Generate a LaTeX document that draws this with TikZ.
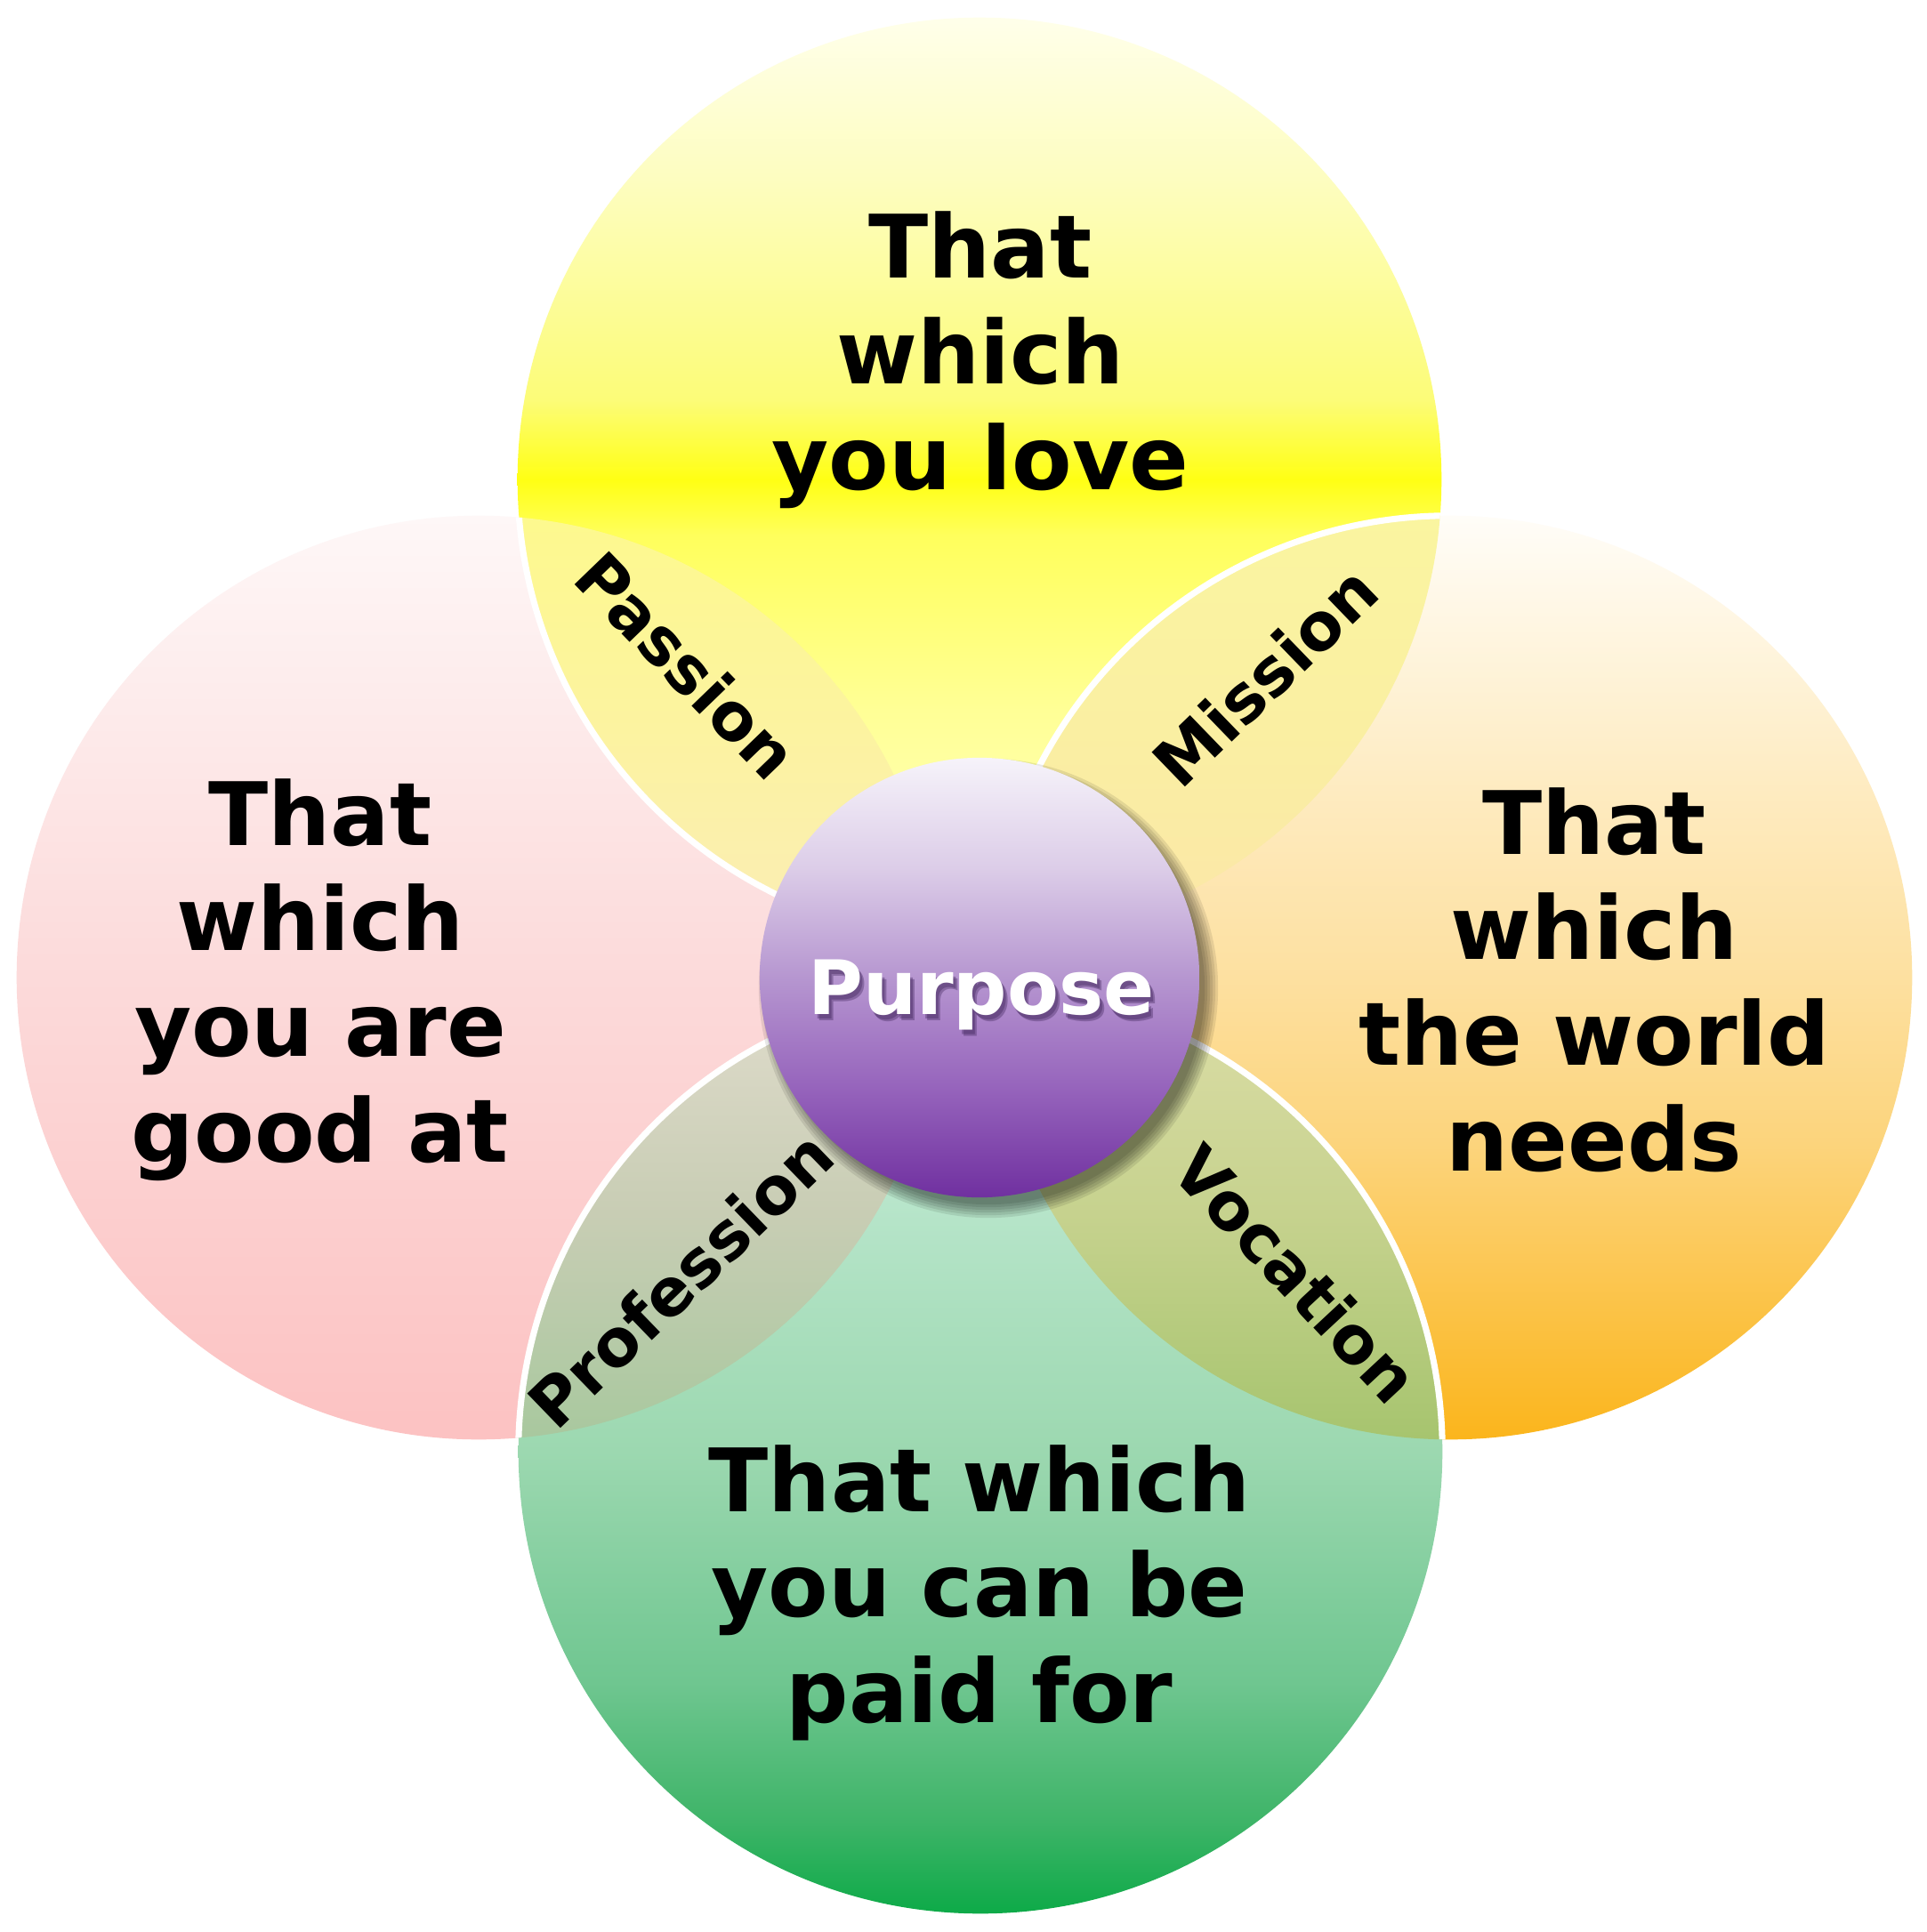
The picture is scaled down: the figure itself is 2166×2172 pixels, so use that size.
\documentclass[tikz,border=0pt]{standalone}
\usepackage{fontspec}
\setmainfont{DejaVu Sans}

% top circle colours
\definecolor{tyA}{HTML}{FFFFC4}
\definecolor{tyB}{HTML}{FFFF96}
\definecolor{tyC}{HTML}{FFFF5C}
\definecolor{tyD}{HTML}{FFFF14}
\definecolor{tyE}{HTML}{FCFC78}
\definecolor{tyF}{HTML}{FDFDC0}
\definecolor{tyG}{HTML}{FFFFEA}
% left
\definecolor{lpA}{HTML}{FCC2C2}
\definecolor{lpB}{HTML}{FCDADA}
\definecolor{lpC}{HTML}{FEF7F7}
% right
\definecolor{roA}{HTML}{FBB51C}
\definecolor{roB}{HTML}{FCD47C}
\definecolor{roC}{HTML}{FDE0A0}
\definecolor{roD}{HTML}{FEEBC0}
\definecolor{roE}{HTML}{FFFDF8}
% bottom
\definecolor{bgA}{HTML}{0DAA48}
\definecolor{bgB}{HTML}{3EB468}
\definecolor{bgC}{HTML}{6FC690}
\definecolor{bgD}{HTML}{9CD8B0}
\definecolor{bgE}{HTML}{B5E4C8}
\definecolor{bgF}{HTML}{D6F3E4}
% purple
\definecolor{ppA}{HTML}{7030A0}
\definecolor{ppB}{HTML}{9664BC}
\definecolor{ppC}{HTML}{B696D0}
\definecolor{ppD}{HTML}{DCCDE8}
\definecolor{ppE}{HTML}{F6F3FA}
\definecolor{pshadow}{HTML}{3A1F55}

\pgfdeclareverticalshading{shTop}{100bp}{color(0bp)=(tyA); color(25bp)=(tyA); color(37.5bp)=(tyB); color(47bp)=(tyC); color(50bp)=(tyD); color(54.3bp)=(tyE); color(66.3bp)=(tyF); color(75bp)=(tyG); color(100bp)=(tyG)}
\pgfdeclareverticalshading{shLeft}{100bp}{color(0bp)=(lpA); color(25bp)=(lpA); color(50bp)=(lpB); color(75bp)=(lpC); color(100bp)=(lpC)}
\pgfdeclareverticalshading{shRight}{100bp}{color(0bp)=(roA); color(25bp)=(roA); color(41bp)=(roB); color(50bp)=(roC); color(60bp)=(roD); color(75bp)=(roE); color(100bp)=(roE)}
\pgfdeclareverticalshading{shBottom}{100bp}{color(0bp)=(bgA); color(25bp)=(bgA); color(30bp)=(bgB); color(37.5bp)=(bgC); color(50bp)=(bgD); color(62.5bp)=(bgE); color(75bp)=(bgF); color(100bp)=(bgF)}
\pgfdeclareverticalshading{shPurple}{100bp}{color(0bp)=(ppA); color(25bp)=(ppA); color(37.5bp)=(ppB); color(50bp)=(ppC); color(62.5bp)=(ppD); color(75bp)=(ppE); color(100bp)=(ppE)}

\tikzset{
  bigtext/.style={font=\fontsize{28}{33.7}\selectfont\bfseries, align=center, anchor=base, inner sep=0pt, text=black},
  lenslabel/.style={font=\fontsize{21}{25}\selectfont\bfseries, inner sep=0pt, text=black},
  wborder/.style={draw=white, line width=2pt},
  purposetext/.style={font=\fontsize{24}{28}\selectfont\bfseries, anchor=base, inner sep=0pt}
}

\begin{document}
\begin{tikzpicture}[x=0.01cm,y=-0.01cm]
\useasboundingbox (0,0) rectangle (2166,2172);
\fill[white] (0,0) rectangle (2166,2172);

\coordinate (cT) at (1101,539);
\coordinate (cL) at (538,1099);
\coordinate (cR) at (1630,1099);
\coordinate (cB) at (1102,1632);
\coordinate (cP) at (1101,1099);
\coordinate (cS) at (1111,1111);
\def\R{5.19cm}

% the four circles
\shade[shading=shLeft] (cL) circle[radius=\R];
\shade[shading=shTop] (cT) circle[radius=\R];
\shade[shading=shRight] (cR) circle[radius=\R];
\shade[shading=shBottom] (cB) circle[radius=\R];

% overlaps
\begin{scope}
  \clip (cL) circle[radius=\R];
  \clip (cT) circle[radius=\R];
  \shade[top color={rgb,255:red,253;green,249;blue,142}, bottom color={rgb,255:red,250;green,237;blue,182}, middle color={rgb,255:red,252;green,243;blue,160}] (580,578) rectangle (1060,1060);
\end{scope}
\begin{scope}
  \clip (cT) circle[radius=\R];
  \clip (cR) circle[radius=\R];
  \shade[top color={rgb,255:red,250;green,245;blue,160}, bottom color={rgb,255:red,251;green,230;blue,168}, middle color={rgb,255:red,250;green,239;blue,162}] (1108,576) rectangle (1622,1062);
\end{scope}
\begin{scope}
  \clip (cL) circle[radius=\R];
  \clip (cB) circle[radius=\R];
  \shade[top color={rgb,255:red,224;green,220;blue,204}, bottom color={rgb,255:red,168;green,200;blue,158}, middle color={rgb,255:red,200;green,205;blue,180}] (580,1110) rectangle (1060,1620);
\end{scope}
\begin{scope}
  \clip (cR) circle[radius=\R];
  \clip (cB) circle[radius=\R];
  \shade[top color={rgb,255:red,221;green,222;blue,168}, bottom color={rgb,255:red,166;green,196;blue,110}, middle color={rgb,255:red,198;green,210;blue,142}] (1106,1108) rectangle (1624,1622);
\end{scope}

% white borders
\begin{scope}
  \clip (cL) circle[radius=\R];
  \draw[wborder] (cT) circle[radius=\R];
\end{scope}
\begin{scope}
  \clip (cT) circle[radius=\R];
  \draw[wborder] (cR) circle[radius=\R];
\end{scope}
\begin{scope}
  \clip (cL) circle[radius=\R];
  \draw[wborder] (cB) circle[radius=\R];
\end{scope}
\begin{scope}
  \clip (cR) circle[radius=\R];
  \draw[wborder] (cB) circle[radius=\R];
\end{scope}

% shadow of the centre circle
\foreach \r in {2.58,2.55,2.52,2.49,2.46,2.43}{
  \fill[black, opacity=0.09] (cS) circle[radius=\r cm];
}
% centre circle
\shade[shading=shPurple] (cP) circle[radius=2.47cm];

% labels (base = baseline of the last line)
\node[bigtext] (tLove) at (1102,550) {That\\which\\you love};
\node[bigtext] (tGood) at (360,1306) {That\\which\\you are\\good at};
\node[bigtext] (tWorld) at (1792,1316) {That\\which\\the world\\needs};
\node[bigtext] (tPaid) at (1101,1936) {That which\\you can be\\paid for};

\node[purposetext, text=pshadow, opacity=0.35] (purposeShadowA) at (1108,1147) {Purpose};
\node[purposetext, text=pshadow, opacity=0.35] (purposeShadowB) at (1106,1145) {Purpose};
\node[purposetext, text=white] (purpose) at (1103,1140) {Purpose};

\node[lenslabel, rotate=-46] (passion) at (772,748) {Passion};
\node[lenslabel, rotate=44] (mission) at (1422,760) {Mission};
\node[lenslabel, rotate=-47] (vocation) at (1457,1432) {Vocation};
\node[lenslabel, rotate=44] (profession) at (765,1438) {Profession};
\end{tikzpicture}
\end{document}
